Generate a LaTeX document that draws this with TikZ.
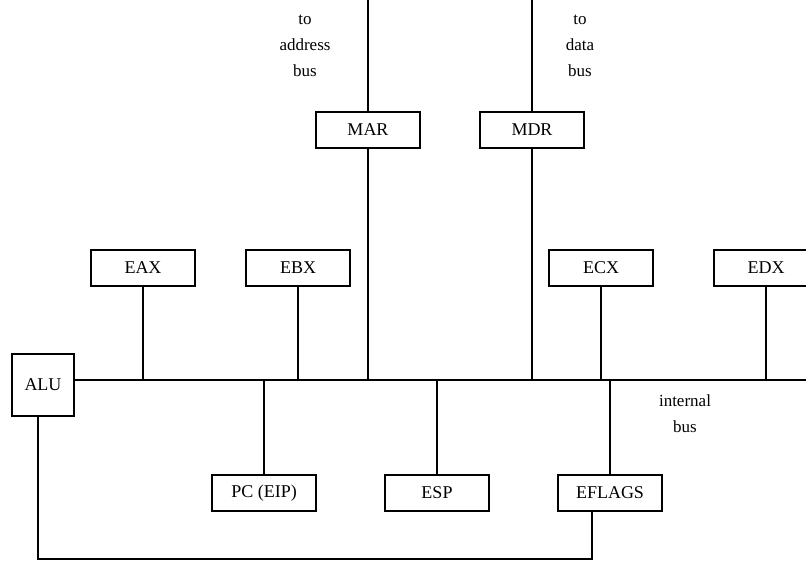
\documentclass[tikz,border=0pt]{standalone}
\usepackage{fontspec}
\setmainfont{Liberation Serif}
\begin{document}
\begin{tikzpicture}[x=1pt,y=-1pt,
  reg/.style={draw,line width=1.5pt,minimum width=104pt,minimum height=36pt,inner sep=0pt,font=\fontsize{18}{20}\selectfont},
  wire/.style={line width=1.5pt},
  lbl/.style={align=center,inner sep=0pt,font=\fontsize{17}{26}\selectfont}]
\clip (0,0) rectangle (806,561);
\fill[white] (0,0) rectangle (806,561);
% registers
\node[reg] (EAX) at (143,268) {EAX};
\node[reg] (EBX) at (298,268) {EBX};
\node[reg] (MAR) at (368,130) {MAR};
\node[reg] (MDR) at (532,130) {MDR};
\node[reg] (ECX) at (601,268) {ECX};
\node[reg] (EDX) at (766,268) {EDX};
\node[reg,minimum width=62pt,minimum height=62pt] (ALU) at (43,385) {ALU};
\node[reg] (PC) at (264,493) {PC (EIP)};
\node[reg] (ESP) at (437,493) {ESP};
\node[reg] (EFLAGS) at (610,493) {EFLAGS};
% bus coordinates
\coordinate (busL) at (74,380);
\coordinate (busR) at (806,380);
\coordinate (topA) at (368,0);
\coordinate (topD) at (532,0);
% labels
\node[lbl] (la) at (305,46) {to\\address\\bus};
\node[lbl] (ld) at (580,46) {to\\data\\bus};
\node[lbl] (li) at (685,413.5) {internal\\bus};
% internal bus
\draw[wire] (ALU.east |- busL) -- (busR);
\draw[wire] (EAX.south) -- (EAX.south |- busL);
\draw[wire] (EBX.south) -- (EBX.south |- busL);
\draw[wire] (MAR.south) -- (MAR.south |- busL);
\draw[wire] (MDR.south) -- (MDR.south |- busL);
\draw[wire] (ECX.south) -- (ECX.south |- busL);
\draw[wire] (EDX.south) -- (EDX.south |- busL);
\draw[wire] (PC.north) -- (PC.north |- busL);
\draw[wire] (ESP.north) -- (ESP.north |- busL);
\draw[wire] (EFLAGS.north) -- (EFLAGS.north |- busL);
% external buses
\draw[wire] (MAR.north) -- (topA);
\draw[wire] (MDR.north) -- (topD);
% ALU to EFLAGS loop
\coordinate (loopL) at (38,559);
\coordinate (loopR) at (592,559);
\draw[wire] ([xshift=-5pt]ALU.south) -- (loopL) -- (loopR) -- ([xshift=-18pt]EFLAGS.south);
\end{tikzpicture}
\end{document}
